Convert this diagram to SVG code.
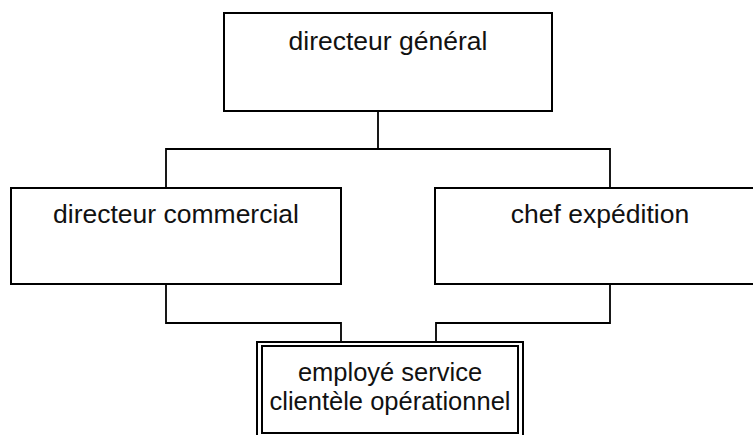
<svg xmlns="http://www.w3.org/2000/svg" width="753" height="435" viewBox="0 0 753 435">
<style>
.box{fill:#fff;stroke:#000;stroke-width:2}
.ln{fill:none;stroke:#000;stroke-width:1.8}
text{font-family:"Liberation Sans",Arial,sans-serif;font-size:26.5px;fill:#111;text-anchor:middle}
text.sm{font-size:25.5px}
</style>
<rect width="753" height="435" fill="#fff"/>
<g id="connectors">
<path class="ln" d="M378 111 V149 M166 188 V149 H610 V188"/>
<path class="ln" d="M166 284 V323 H341 V342"/>
<path class="ln" d="M610 284 V323 H436 V342"/>
</g>
<g id="directeur-general">
<rect class="box" x="224" y="13" width="328" height="98"/>
<text x="388" y="50">directeur général</text>
</g>
<g id="directeur-commercial">
<rect class="box" x="11" y="188" width="330" height="96"/>
<text x="176" y="223">directeur commercial</text>
</g>
<g id="chef-expedition">
<rect class="box" x="435" y="188" width="330" height="96"/>
<text x="600" y="223">chef expédition</text>
</g>
<g id="employe-service">
<rect class="box" x="257" y="342" width="266" height="100"/>
<rect class="box" x="262" y="346" width="256" height="87"/>
<text class="sm" x="390" y="381">employé service</text>
<text class="sm" x="390" y="410">clientèle opérationnel</text>
</g>
</svg>
